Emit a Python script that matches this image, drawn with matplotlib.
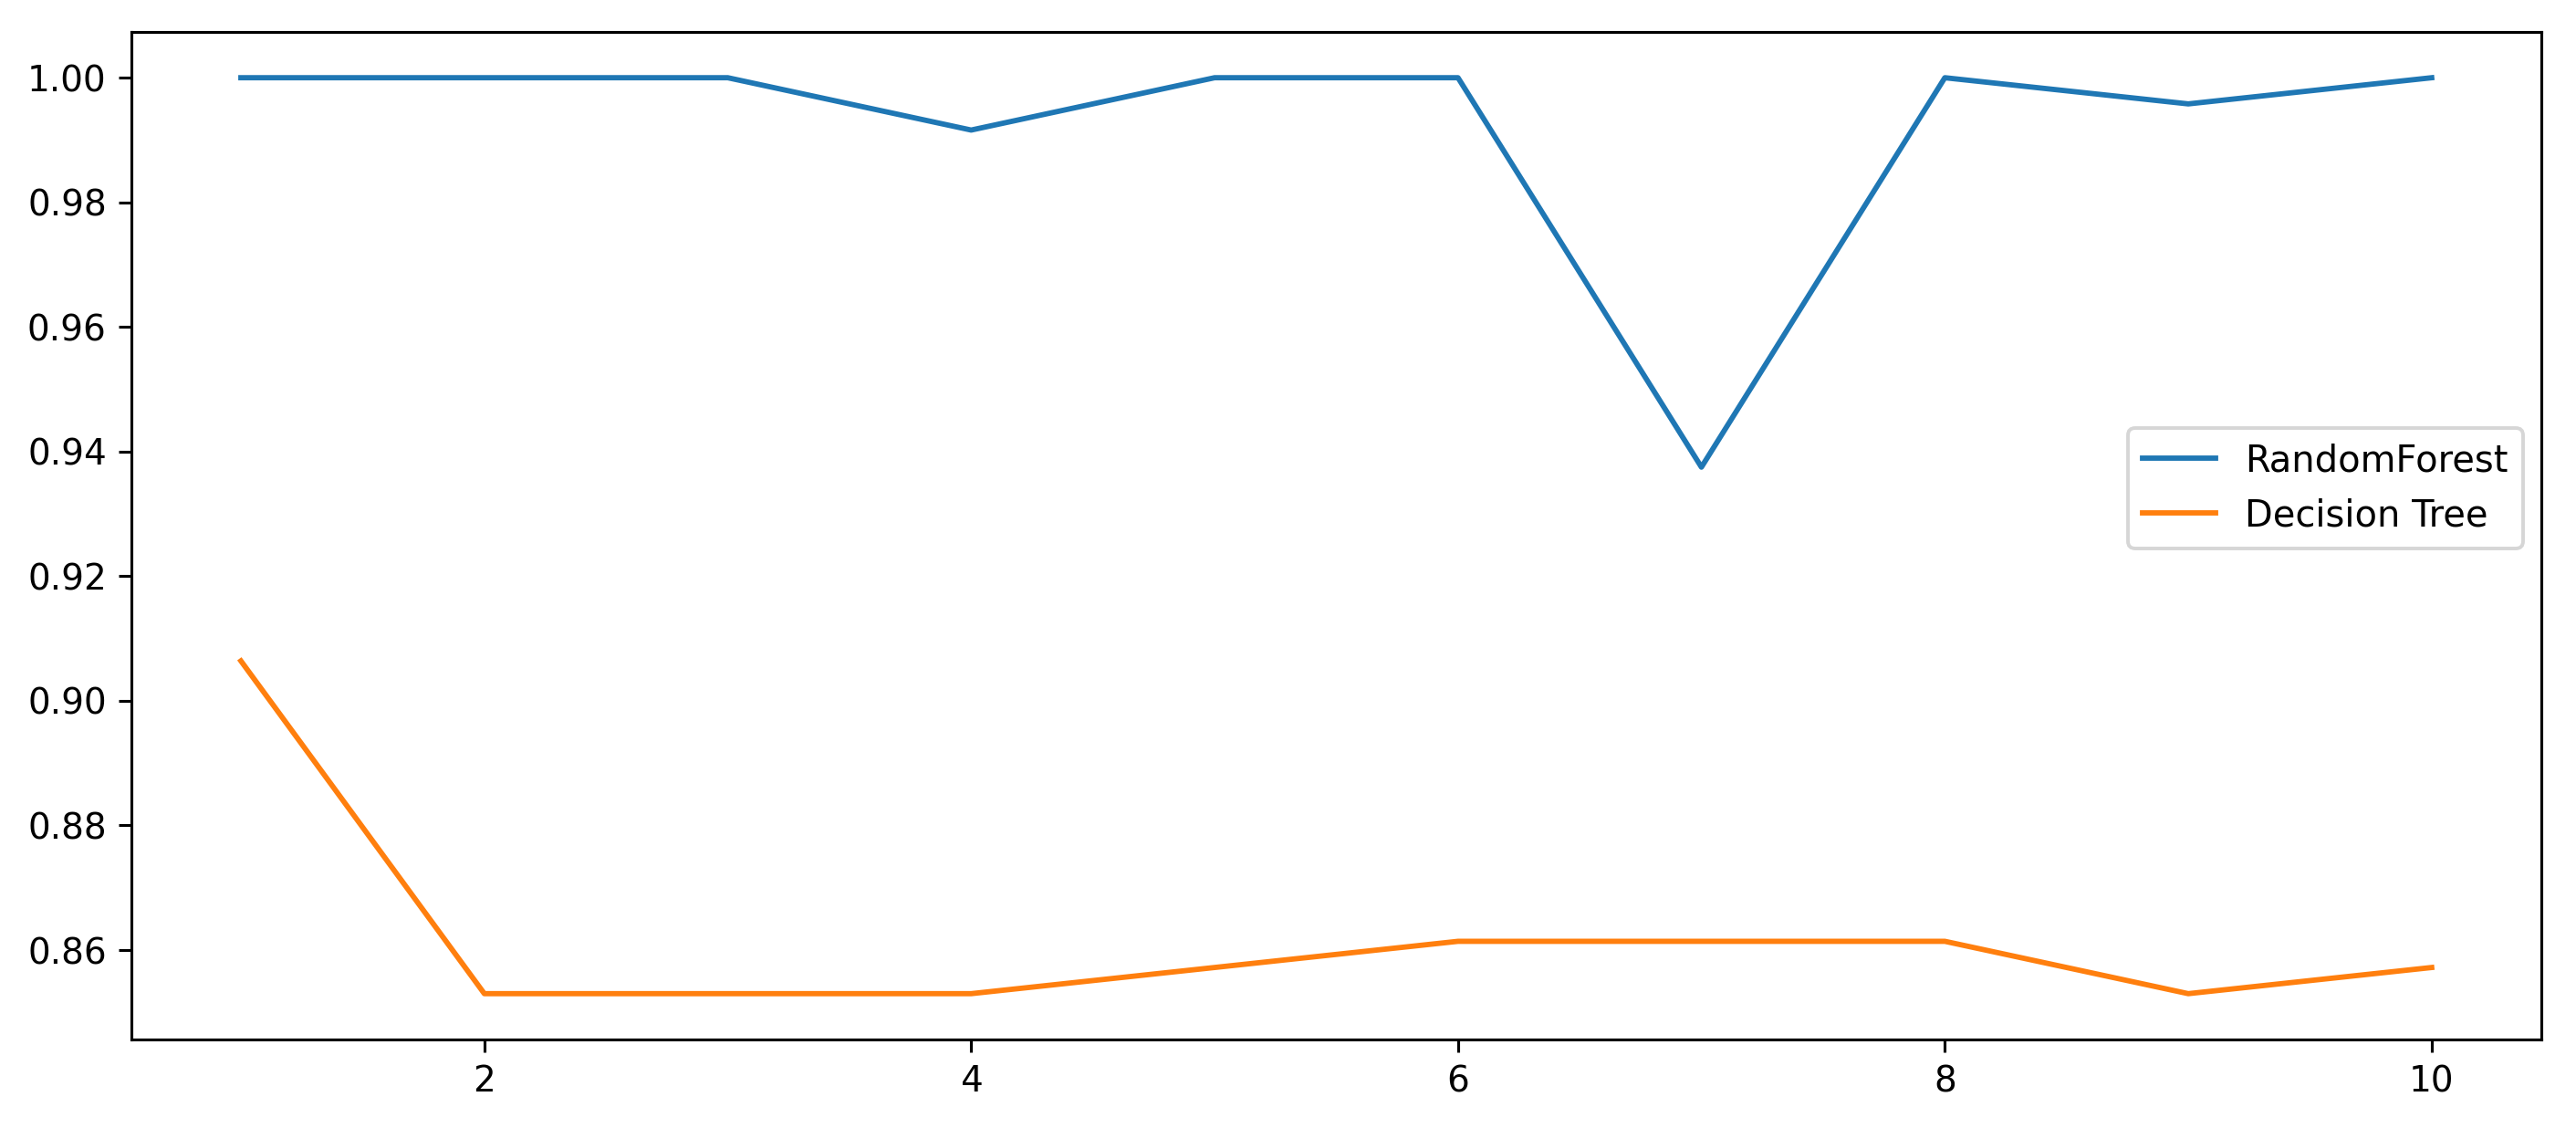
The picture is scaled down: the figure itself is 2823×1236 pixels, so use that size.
import matplotlib
matplotlib.use('Agg')
import matplotlib.pyplot as plt

# accuracy per run
runs = [1, 2, 3, 4, 5, 6, 7, 8, 9, 10]
random_forest = [1.0, 1.0, 1.0, 0.9916, 1.0, 1.0, 0.9375, 1.0, 0.9958, 1.0]
decision_tree = [0.9064, 0.853, 0.853, 0.853, 0.8572, 0.8614, 0.8614, 0.8614, 0.853, 0.8572]

DPI = 280
fig = plt.figure(figsize=(2823 / DPI, 1236 / DPI), dpi=DPI)
ax = fig.add_axes([0.051, 0.0785, 0.9355, 0.8932])

ax.plot(runs, random_forest, label='RandomForest')
ax.plot(runs, decision_tree, label='Decision Tree')

ax.legend(loc='center right', bbox_to_anchor=(1.0, 0.547), fontsize=10.3)

fig.savefig('out.png', dpi=DPI, facecolor='white')
